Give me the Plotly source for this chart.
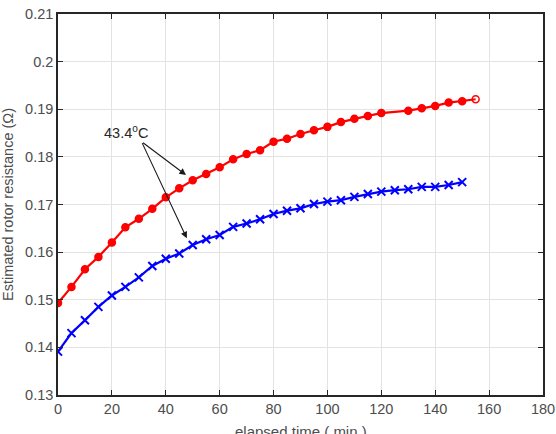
import plotly.graph_objects as go

# Red series (elapsed time, min) and resistance (ohm)
red_t = [0, 5, 10, 15, 20, 25, 30, 35, 40, 45, 50, 55, 60, 65, 70, 75, 80, 85, 90, 95,
         100, 105, 110, 115, 120, 130, 135, 140, 145, 150, 155]
red_r = [0.1493, 0.1527, 0.1564, 0.1590, 0.1620, 0.1652, 0.1670, 0.1691, 0.1715, 0.1734,
         0.1751, 0.1764, 0.1778, 0.1795, 0.1806, 0.1814, 0.1832, 0.1838, 0.1848, 0.1856,
         0.1863, 0.1873, 0.1880, 0.1886, 0.1892, 0.1897, 0.1902, 0.1907, 0.1914, 0.1917,
         0.1921]

# Blue series
blue_t = [0, 5, 10, 15, 20, 25, 30, 35, 40, 45, 50, 55, 60, 65, 70, 75, 80, 85, 90, 95,
          100, 105, 110, 115, 120, 125, 130, 135, 140, 145, 150]
blue_r = [0.1391, 0.1430, 0.1457, 0.1485, 0.1509, 0.1527, 0.1547, 0.1571, 0.1586, 0.1597,
          0.1615, 0.1627, 0.1636, 0.1653, 0.1660, 0.1669, 0.1680, 0.1687, 0.1692, 0.1701,
          0.1706, 0.1709, 0.1716, 0.1722, 0.1727, 0.1730, 0.1732, 0.1737, 0.1737, 0.1741,
          0.1747]

x_ticks = [0, 20, 40, 60, 80, 100, 120, 140, 160, 180]
y_ticks = [0.13, 0.14, 0.15, 0.16, 0.17, 0.18, 0.19, 0.20, 0.21]
y_tick_text = ["0.13", "0.14", "0.15", "0.16", "0.17", "0.18", "0.19", "0.2", "0.21"]

x_title = "elapsed time ( min )"
y_title = "Estimated rotor resistance (Ω)"

annot_text = "43.4<sup>o</sup>C"
annot_pos = (25.2, 0.1853)
arrow_tail = (31.0, 0.1832)
arrow_heads = [(47.5, 0.1762), (47.8, 0.1629)]

AX = "#262626"
TXT = "#4d4d4d"
FONT = "Liberation Sans, Arial, sans-serif"

red_symbols = ["circle"] * (len(red_t) - 1) + ["circle-open"]

fig = go.Figure()
fig.add_trace(go.Scatter(
    x=red_t, y=red_r, mode="lines+markers",
    line=dict(color="#ff0000", width=2.2),
    marker=dict(symbol=red_symbols, size=7, color="#ff0000",
                line=dict(color="#ff0000", width=1.5)),
    showlegend=False))
fig.add_trace(go.Scatter(
    x=blue_t, y=blue_r, mode="lines+markers",
    line=dict(color="#0000ff", width=2.2),
    marker=dict(symbol="x-thin", size=8, color="#0000ff",
                line=dict(color="#0000ff", width=2)),
    showlegend=False))

fig.add_annotation(x=annot_pos[0], y=annot_pos[1], text=annot_text, showarrow=False,
                   font=dict(family=FONT, size=14.5, color=AX), xanchor="center", yanchor="middle")
for hx, hy in arrow_heads:
    fig.add_annotation(x=hx, y=hy, ax=arrow_tail[0], ay=arrow_tail[1],
                       axref="x", ayref="y", xref="x", yref="y", text="",
                       showarrow=True, arrowhead=2, arrowsize=1.2, arrowwidth=1.1,
                       arrowcolor="#1a1a1a")

# x-axis title placed as paper annotation (partly below the page edge, as in the reference)
fig.add_annotation(x=0.5, y=0, xref="paper", yref="paper", text=x_title, showarrow=False,
                   xanchor="center", yanchor="top", yshift=-26,
                   font=dict(family=FONT, size=15, color=TXT))

fig.update_layout(
    width=556, height=434,
    margin=dict(l=58, r=13, t=14, b=39),
    paper_bgcolor="white", plot_bgcolor="white",
    font=dict(family=FONT, size=14, color=TXT),
)
fig.update_xaxes(
    range=[0, 180], tickvals=x_ticks, ticks="inside", ticklen=5, tickwidth=1.2,
    tickcolor=AX, showline=True, linecolor=AX, linewidth=1.5, mirror="ticks",
    showgrid=True, gridcolor="#e3e3e3", gridwidth=1, zeroline=False, automargin=False,
    tickfont=dict(size=14.5, color=TXT),
)
fig.update_yaxes(
    range=[0.13, 0.21], tickvals=y_ticks, ticktext=y_tick_text, ticks="inside",
    ticklen=5, tickwidth=1.2, tickcolor=AX, showline=True, linecolor=AX, linewidth=1.5,
    mirror="ticks", showgrid=True, gridcolor="#e3e3e3", gridwidth=1, zeroline=False,
    automargin=False,
    tickfont=dict(size=14.5, color=TXT),
    title=dict(text=y_title, font=dict(size=14.5, color=TXT)),
)

fig.write_html("out.html")
